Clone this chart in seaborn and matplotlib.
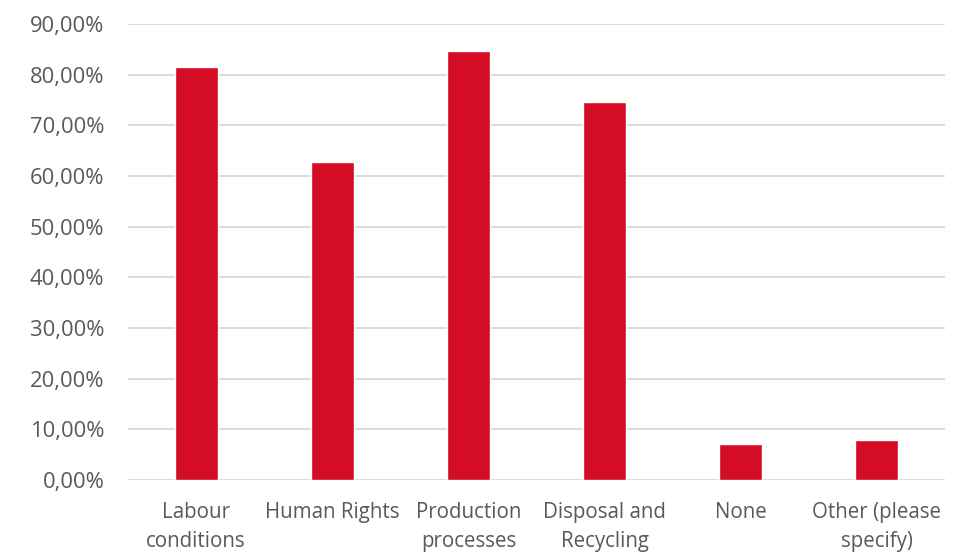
import numpy as np
import matplotlib
matplotlib.use("Agg")
import matplotlib.pyplot as plt
import seaborn as sns
import pandas as pd
from matplotlib.ticker import FuncFormatter

sns.set_style('white')
plt.rcParams['font.family'] = ['Open Sans', 'DejaVu Sans']

categories = ['Labour\nconditions', 'Human Rights', 'Production\nprocesses',
              'Disposal and\nRecycling', 'None', 'Other (please\nspecify)']
values = [81.45, 62.75, 84.65, 74.55, 7.1, 7.85]

df = pd.DataFrame({'cat': categories, 'val': values})

fig = plt.figure(figsize=(9.56, 5.52), dpi=100)
ax = fig.add_axes([0.134, 0.1304, 0.8545, 0.8261])

sns.barplot(data=df, x='cat', y='val', color='#D40C24', saturation=1,
            width=0.315, ax=ax, zorder=3)

ax.set_ylim(0, 90)
ax.set_xlim(-0.5, len(categories) - 0.5)
ax.set_yticks(np.arange(0, 91, 10))
ax.yaxis.set_major_formatter(FuncFormatter(lambda v, p: f'{v:.2f}%'.replace('.', ',')))
ax.grid(axis='y', color='#D9D9D9', linewidth=1.3, zorder=0)
ax.set_axisbelow(True)
for s in ax.spines.values():
    s.set_visible(False)
ax.set_xlabel('')
ax.set_ylabel('')
ax.tick_params(axis='both', length=0, labelcolor='#595959')
ax.tick_params(axis='x', pad=16, labelsize=14.8)
ax.tick_params(axis='y', pad=17, labelsize=15.8)
for lbl in ax.get_xticklabels():
    lbl.set_linespacing(1.5)

plt.savefig('out.png', dpi=100)
